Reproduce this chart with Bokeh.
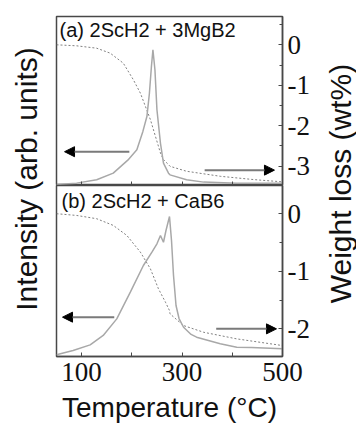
import numpy as np
from bokeh.plotting import figure
from bokeh.models import Range1d, FixedTicker, Arrow, NormalHead, Label, PrintfTickFormatter
from bokeh.layouts import row, column
from bokeh.embed import file_html
from bokeh.resources import INLINE

# ---------------- data ----------------
# (a) 2ScH2 + 3MgB2
temp_a_int = [50, 90, 130, 163, 192, 210, 222, 230, 235, 239, 242, 246, 250, 257, 263, 273, 276, 309, 343, 409, 500]
int_a = [0.006, 0.014, 0.034, 0.073, 0.15, 0.211, 0.32, 0.408, 0.546, 0.704, 0.803, 0.685, 0.448, 0.25, 0.132, 0.073, 0.063, 0.034, 0.02, 0.014, 0.014]
temp_a_wt = [50, 90, 130, 157, 183, 203, 217, 227, 237, 247, 257, 263, 273, 276, 309, 376, 443, 500]
wt_a = [0.0, -0.025, -0.084, -0.207, -0.454, -0.864, -1.195, -1.523, -1.852, -2.264, -2.677, -2.84, -2.963, -3.005, -3.128, -3.252, -3.334, -3.39]

# (b) 2ScH2 + CaB6
temp_b_int = [50, 83, 117, 143, 170, 197, 223, 240, 250, 257, 263, 268, 275, 279, 283, 288, 294, 303, 318, 329, 376, 409, 438, 500]
int_b = [0.01, 0.035, 0.068, 0.123, 0.22, 0.376, 0.532, 0.61, 0.659, 0.708, 0.668, 0.737, 0.819, 0.678, 0.474, 0.298, 0.222, 0.171, 0.129, 0.113, 0.074, 0.054, 0.053, 0.045]
temp_b_wt = [50, 90, 130, 163, 190, 217, 237, 253, 267, 275, 276, 303, 343, 409, 500]
wt_b = [0.0, -0.03, -0.087, -0.203, -0.377, -0.667, -0.957, -1.304, -1.537, -1.682, -1.739, -1.943, -2.059, -2.174, -2.29]

panel_labels = ["(a) 2ScH2 + 3MgB2", "(b) 2ScH2 + CaB6"]
x_major = [100, 300, 500]
x_minor = [200, 400]
wt_ticks_a = [0, -1, -2, -3]
wt_minor_a = [0.5, -0.5, -1.5, -2.5]
wt_ticks_b = [0, -1, -2]
wt_minor_b = [-0.5, -1.5]

FRAME = "#484848"
SOLID = "#a8a8a8"
DOTTED = "#808080"
TEXT = "#111111"
SANS = "Liberation Sans"
SERIF = "Liberation Serif"


def make_panel(frame_h, wt_lo, wt_hi, ticks, minor, top_border, show_labels):
    p = figure(frame_width=226, frame_height=frame_h,
               x_range=Range1d(50, 500), y_range=Range1d(wt_lo, wt_hi),
               y_axis_location="right", x_axis_location="below",
               toolbar_location=None, output_backend="svg", title=None,
               min_border_left=2, min_border_right=30,
               min_border_top=top_border, min_border_bottom=0,
               background_fill_color="white", border_fill_color="white")
    p.extra_y_ranges = {"int": Range1d(0, 1)}
    p.grid.visible = False
    p.outline_line_color = FRAME
    p.outline_line_width = 1.5

    ya = p.yaxis[0]
    ya.ticker = FixedTicker(ticks=ticks, minor_ticks=minor)
    ya.formatter = PrintfTickFormatter(format="%d")
    ya.major_tick_in = 4
    ya.major_tick_out = 0
    ya.minor_tick_in = 3
    ya.minor_tick_out = 0
    ya.axis_line_color = FRAME
    ya.axis_line_width = 1.5
    ya.major_tick_line_color = FRAME
    ya.minor_tick_line_color = FRAME
    ya.major_label_text_font = SERIF
    ya.major_label_text_font_size = "27px"
    ya.major_label_text_color = TEXT
    ya.major_label_standoff = 5

    xa = p.xaxis[0]
    xa.major_tick_in = 4
    xa.major_tick_out = 0
    xa.minor_tick_in = 4
    xa.minor_tick_out = 0
    xa.axis_line_color = FRAME
    xa.axis_line_width = 1.5
    xa.major_tick_line_color = FRAME
    xa.minor_tick_line_color = FRAME
    if show_labels:
        xa.ticker = FixedTicker(ticks=x_major, minor_ticks=x_minor)
        xa.formatter = PrintfTickFormatter(format="%d")
        xa.major_label_text_font = SERIF
        xa.major_label_text_font_size = "27px"
        xa.major_label_text_color = TEXT
        xa.major_label_standoff = 6
        xa.axis_label = "Temperature (°C)"
        xa.axis_label_text_font = SANS
        xa.axis_label_text_font_size = "28px"
        xa.axis_label_text_font_style = "normal"
        xa.axis_label_text_color = TEXT
        xa.axis_label_standoff = 8
    else:
        xa.ticker = FixedTicker(ticks=[], minor_ticks=x_major + x_minor)
        xa.major_label_standoff = 0
    return p


pa = make_panel(169, -3.48, 0.70, wt_ticks_a, wt_minor_a, 16, False)
pb = make_panel(171, -2.48, 0.49, wt_ticks_b, wt_minor_b, 0, True)

for p, ti, iv, tw, wv in [(pa, temp_a_int, int_a, temp_a_wt, wt_a),
                          (pb, temp_b_int, int_b, temp_b_wt, wt_b)]:
    p.line(tw, wv, line_color=DOTTED, line_width=1, line_dash="2 2")
    p.line(ti, iv, line_color=SOLID, line_width=1.5, y_range_name="int")


def add_arrow(p, x0, x1, y, rng):
    kw = dict(y_range_name=rng) if rng else {}
    p.add_layout(Arrow(end=NormalHead(size=10, fill_color="black", line_color="black"),
                       x_start=x0, y_start=y, x_end=x1, y_end=y,
                       line_color="#7a7a7a", line_width=2, **kw))


add_arrow(pa, 195, 66, 0.20, "int")
add_arrow(pa, 345, 484, -3.10, None)
add_arrow(pb, 165, 62, 0.23, "int")
add_arrow(pb, 368, 488, -2.0, None)

pa.add_layout(Label(x=56, y=0.64, text=panel_labels[0], text_font=SANS,
                    text_font_size="20px", text_baseline="top", text_align="left",
                    text_color=TEXT))
pb.add_layout(Label(x=60, y=0.41, text=panel_labels[1], text_font=SANS,
                    text_font_size="20px", text_baseline="top", text_align="left",
                    text_color=TEXT))

H = 423


def label_fig(w, x, y_from_top, text):
    f = figure(width=w, height=H, x_range=Range1d(0, w), y_range=Range1d(0, H),
               toolbar_location=None, output_backend="svg", title=None,
               x_axis_location=None, y_axis_location=None, min_border=0,
               outline_line_color=None, background_fill_color="white",
               border_fill_color="white")
    f.grid.visible = False
    f.add_layout(Label(x=x, y=H - y_from_top, text=text, angle=np.pi / 2, text_font=SANS,
                       text_font_size="30px", text_align="center",
                       text_baseline="middle", text_color=TEXT))
    return f


lf = label_fig(54, 26, 178.5, "Intensity (arb. units)")
rf = label_fig(44, 28, 183, "Weight loss (wt%)")

layout = row(lf, column(pa, pb), rf)
open("out.html", "w").write(file_html(layout, INLINE))
